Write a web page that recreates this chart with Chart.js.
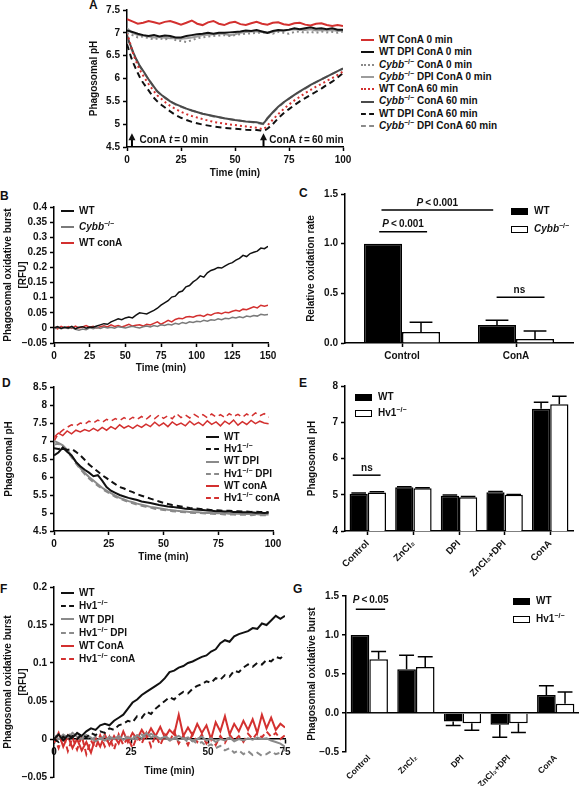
<!DOCTYPE html>
<html lang="en">
<head>
<meta charset="UTF-8">
<meta name="viewport" content="width=device-width, initial-scale=1.0">
<title>Phagosomal pH and oxidative burst</title>
<script src="https://cdnjs.cloudflare.com/ajax/libs/Chart.js/4.4.1/chart.umd.min.js"></script>
<style>
    body {
        margin: 0;
        background: #fff;
        color: #111;
        font-family: "Liberation Sans", Arial, sans-serif;
        font-weight: bold;
    }
    #figure {
        position: relative;
        width: 580px;
        height: 786px;
        overflow: hidden;
    }
    .panel { position: absolute; }
    .panel canvas { display: block; }
    .letter {
        position: absolute;
        font-size: 12px;
        line-height: 12px;
    }
    .legend {
        position: absolute;
        font-size: 10px;
    }
    .legend .row {
        display: flex;
        align-items: center;
        white-space: nowrap;
    }
    .legend .swatch {
        display: inline-block;
        width: 13px;
        height: 0;
        margin-right: 5px;
    }
    .legend .box {
        display: inline-block;
        width: 15px;
        height: 5px;
        border: 1.5px solid #000;
        margin-right: 6px;
    }
    sup {
        font-size: 7px;
        line-height: 0;
        vertical-align: 4px;
    }
</style>
</head>
<body>
<div id="figure">
    <div class="letter" style="left:89px;top:-1px">A</div>
    <div class="letter" style="left:0px;top:190px">B</div>
    <div class="letter" style="left:299px;top:187px">C</div>
    <div class="letter" style="left:2px;top:377px">D</div>
    <div class="letter" style="left:299px;top:377px">E</div>
    <div class="letter" style="left:0px;top:583px">F</div>
    <div class="letter" style="left:293px;top:583px">G</div>

    <div class="panel" style="left:80px;top:0px"><canvas id="chartA" width="275" height="179"></canvas></div>
    <div class="panel" style="left:0px;top:196px"><canvas id="chartB" width="280" height="178"></canvas></div>
    <div class="panel" style="left:300px;top:185px"><canvas id="chartC" width="280" height="178"></canvas></div>
    <div class="panel" style="left:0px;top:378px"><canvas id="chartD" width="285" height="185"></canvas></div>
    <div class="panel" style="left:300px;top:376px"><canvas id="chartE" width="280" height="207"></canvas></div>
    <div class="panel" style="left:0px;top:577px"><canvas id="chartF" width="297" height="209"></canvas></div>
    <div class="panel" style="left:300px;top:586px"><canvas id="chartG" width="280" height="200"></canvas></div>

    <div class="legend" id="legendA" style="left:361px;top:34px;line-height:12.3px"></div>
    <div class="legend" id="legendB" style="left:61px;top:203px;line-height:16px"></div>
    <div class="legend" id="legendC" style="left:511px;top:202px;line-height:18px"></div>
    <div class="legend" id="legendD" style="left:206px;top:431px;line-height:12.2px"></div>
    <div class="legend" id="legendE" style="left:355px;top:389px;line-height:16px"></div>
    <div class="legend" id="legendF" style="left:61px;top:586px;line-height:13.3px"></div>
    <div class="legend" id="legendG" style="left:513px;top:592px;line-height:18px"></div>
</div>

<script>
    // ---------- Panel A: phagosomal pH, ConA added at 0 or 60 min ----------
    const timeA0 = [0, 2.5, 5, 7.5, 10, 12.5, 15, 17.5, 20, 22.5, 25, 27.5, 30, 32.5, 35, 37.5, 40, 42.5, 45, 47.5,
        50, 52.5, 55, 57.5, 60, 62.5, 65, 67.5, 70, 72.5, 75, 77.5, 80, 82.5, 85, 87.5, 90, 92.5, 95, 97.5, 100];
    const phWtConA0 = [7.3, 7.25, 7.2, 7.22, 7.26, 7.23, 7.2, 7.24, 7.26, 7.22, 7.18, 7.22, 7.27, 7.2, 7.17, 7.23, 7.26, 7.2, 7.17, 7.22,
        7.24, 7.19, 7.17, 7.21, 7.24, 7.2, 7.18, 7.22, 7.23, 7.19, 7.17, 7.21, 7.22, 7.18, 7.16, 7.2, 7.21, 7.17, 7.15, 7.17, 7.15];
    const phWtDpiConA0 = [7.05, 7.02, 6.98, 6.95, 6.93, 6.95, 6.92, 6.94, 6.93, 6.9, 6.9, 6.93, 6.95, 6.97, 6.98, 7.0, 6.98, 7.0, 7.0, 7.01,
        7.02, 7.03, 7.05, 7.04, 7.06, 7.03, 7.0, 7.04, 7.06, 7.05, 7.07, 7.1, 7.08, 7.1, 7.12, 7.09, 7.1, 7.08, 7.1, 7.07, 7.07];
    const phCybbConA0 = [7.0, 6.95, 6.9, 6.92, 6.88, 6.86, 6.88, 6.85, 6.9, 6.84, 6.82, 6.8, 6.84, 6.88, 6.9, 6.92, 6.93, 6.94, 6.95, 6.93,
        6.95, 6.97, 6.98, 6.99, 7.0, 7.0, 7.02, 6.98, 7.02, 7.0, 6.98, 7.02, 7.03, 7.0, 7.02, 7.0, 7.03, 7.01, 7.02, 7.0, 7.03];
    const phCybbDpiConA0 = [7.1, 7.0, 6.95, 6.94, 6.92, 6.9, 6.91, 6.89, 6.88, 6.88, 6.87, 6.88, 6.9, 6.92, 6.95, 6.96, 6.97, 6.98, 6.98, 6.95,
        6.97, 7.0, 7.02, 7.03, 7.03, 7.02, 7.0, 7.02, 7.05, 7.05, 7.06, 7.08, 7.07, 7.06, 7.08, 7.05, 7.06, 7.05, 7.06, 7.04, 7.05];

    const timeA60 = [0, 1, 2, 3, 4, 5, 6, 7, 8, 10, 12, 14, 16, 18, 20, 22.5, 25, 27.5, 30, 35, 40, 45, 50, 55, 60,
        62, 63, 64, 65, 67.5, 70, 72.5, 75, 77.5, 80, 82.5, 85, 87.5, 90, 92.5, 95, 97.5, 100];
    const phWtConA60 = [7.0, 6.85, 6.68, 6.52, 6.4, 6.28, 6.18, 6.1, 6.02, 5.88, 5.75, 5.63, 5.55, 5.47, 5.4, 5.33, 5.27, 5.22, 5.18,
        5.11, 5.05, 5.01, 4.98, 4.95, 4.92, 4.9, 4.89, 4.92, 4.97, 5.1, 5.22, 5.33, 5.43, 5.52, 5.6, 5.68, 5.75, 5.82, 5.88, 5.95, 6.01, 6.08, 6.15];
    const phCybbConA60 = [6.95, 6.8, 6.68, 6.56, 6.45, 6.36, 6.27, 6.2, 6.13, 5.98, 5.85, 5.72, 5.64, 5.57, 5.5, 5.44, 5.39, 5.34, 5.3,
        5.23, 5.18, 5.13, 5.09, 5.06, 5.04, 5.02, 5.01, 5.06, 5.13, 5.26, 5.38, 5.48, 5.56, 5.64, 5.72, 5.79, 5.86, 5.92, 5.98, 6.04, 6.1, 6.16, 6.22];
    const phWtDpiConA60 = [6.75, 6.6, 6.45, 6.33, 6.22, 6.12, 6.02, 5.94, 5.87, 5.74, 5.6, 5.5, 5.42, 5.35, 5.28, 5.2, 5.14, 5.09, 5.05,
        4.99, 4.95, 4.92, 4.9, 4.88, 4.87, 4.86, 4.85, 4.87, 4.9, 5.0, 5.13, 5.24, 5.33, 5.42, 5.5, 5.57, 5.64, 5.71, 5.78, 5.86, 5.93, 6.02, 6.12];
    const phCybbDpiConA60 = [6.9, 6.78, 6.65, 6.54, 6.44, 6.34, 6.26, 6.19, 6.12, 5.98, 5.84, 5.72, 5.63, 5.56, 5.5, 5.43, 5.38, 5.34, 5.3,
        5.23, 5.17, 5.13, 5.09, 5.06, 5.03, 5.01, 5.0, 5.05, 5.12, 5.25, 5.37, 5.47, 5.56, 5.64, 5.71, 5.78, 5.85, 5.92, 5.98, 6.04, 6.1, 6.16, 6.21];

    // ---------- Panel B: oxidative burst, Cybb knockout ----------
    const timeB = [0, 2.5, 5, 7.5, 10, 12.5, 15, 17.5, 20, 22.5, 25, 27.5, 30, 32.5, 35, 37.5, 40, 42.5, 45, 47.5,
        50, 52.5, 55, 57.5, 60, 62.5, 65, 67.5, 70, 72.5, 75, 77.5, 80, 82.5, 85, 87.5, 90, 92.5, 95, 97.5,
        100, 102.5, 105, 107.5, 110, 112.5, 115, 117.5, 120, 122.5, 125, 127.5, 130, 132.5, 135, 137.5, 140, 142.5, 145, 147.5, 150];
    const burstBWt = [0.0, 0.004, -0.002, 0.003, 0.0, 0.005, -0.003, 0.002, 0.004, -0.001,
        0.003, 0.002, 0.006, 0.01, 0.014, 0.012, 0.02, 0.025, 0.03, 0.027,
        0.033, 0.036, 0.033, 0.042, 0.05, 0.048, 0.046, 0.052, 0.058, 0.065,
        0.075, 0.083, 0.09, 0.102, 0.105, 0.118, 0.122, 0.136, 0.14, 0.152,
        0.16, 0.172, 0.168, 0.182, 0.19, 0.194, 0.2, 0.198, 0.205, 0.212,
        0.216, 0.224, 0.23, 0.24, 0.236, 0.246, 0.25, 0.254, 0.264, 0.262, 0.27];
    const burstBCybb = [-0.004, 0.002, -0.003, 0.0, -0.002, 0.001, -0.005, -0.008, -0.004, -0.006,
        0.0, -0.003, 0.001, -0.002, 0.003, 0.0, 0.002, -0.001, 0.004, 0.002,
        0.0, 0.003, 0.005, 0.002, 0.0, 0.004, 0.006, 0.003, 0.008, 0.005,
        0.01, 0.008, 0.012, 0.01, 0.015, 0.012, 0.018, 0.015, 0.02, 0.018,
        0.022, 0.02, 0.025, 0.022, 0.027, 0.025, 0.03, 0.027, 0.032, 0.03,
        0.035, 0.033, 0.037, 0.034, 0.039, 0.037, 0.041, 0.039, 0.045, 0.043, 0.044];
    const burstBWtConA = [0.002, -0.003, 0.005, 0.0, 0.004, -0.002, 0.006, 0.0, 0.003, 0.008,
        0.002, 0.005, 0.0, 0.004, 0.007, 0.003, 0.01, 0.005, 0.008, 0.003,
        0.007, 0.012, 0.006, 0.009, 0.01, 0.006, 0.012, 0.01, 0.015, 0.02,
        0.012, 0.018, 0.025, 0.02, 0.028, 0.032, 0.03, 0.036, 0.038, 0.035,
        0.04, 0.042, 0.038, 0.045, 0.042, 0.048, 0.05, 0.047, 0.052, 0.05,
        0.055, 0.058, 0.055, 0.062, 0.06, 0.065, 0.07, 0.066, 0.075, 0.072, 0.075];

    // ---------- Panel C: relative oxidation rate ----------
    const catsC = ["Control", "ConA"];
    const rateWt = [1.0, 0.18];
    const rateWtErr = [0, 0.05];
    const rateCybb = [0.11, 0.04];
    const rateCybbErr = [0.1, 0.08];

    // ---------- Panel D: phagosomal pH, Hv1 knockout ----------
    const timeD = [0, 2, 4, 6, 8, 10, 12, 14, 16, 18, 20, 22, 24, 26, 28, 30, 32, 34, 36, 38,
        40, 42, 44, 46, 48, 50, 52, 54, 56, 58, 60, 62, 64, 66, 68, 70, 72, 74, 76, 78,
        80, 82, 84, 86, 88, 90, 92, 94, 96, 98];
    const phDWt = [6.6, 6.68, 6.82, 6.7, 6.6, 6.42, 6.3, 6.2, 6.12, 6.02, 6.05, 5.9, 5.72, 5.62, 5.56, 5.5, 5.46, 5.42, 5.39, 5.36,
        5.32, 5.3, 5.28, 5.25, 5.22, 5.2, 5.18, 5.17, 5.15, 5.14, 5.12, 5.11, 5.1, 5.09, 5.08, 5.07, 5.06, 5.05, 5.05, 5.04,
        5.04, 5.03, 5.03, 5.02, 5.02, 5.02, 5.01, 5.01, 5.0, 5.01];
    const phDHv1 = [6.8, 6.78, 6.8, 6.75, 6.78, 6.7, 6.6, 6.48, 6.35, 6.25, 6.15, 6.05, 5.97, 5.88, 5.8, 5.72, 5.68, 5.62, 5.58, 5.52,
        5.48, 5.44, 5.4, 5.36, 5.32, 5.28, 5.25, 5.22, 5.2, 5.18, 5.16, 5.14, 5.13, 5.12, 5.1, 5.1, 5.08, 5.08, 5.07, 5.06,
        5.06, 5.05, 5.05, 5.04, 5.04, 5.03, 5.04, 5.03, 5.03, 5.02];
    const phDWtDpi = [7.0, 6.95, 6.88, 6.75, 6.6, 6.42, 6.25, 6.12, 6.0, 5.9, 5.8, 5.7, 5.62, 5.55, 5.48, 5.42, 5.38, 5.33, 5.3, 5.26,
        5.23, 5.2, 5.17, 5.15, 5.13, 5.11, 5.09, 5.08, 5.06, 5.05, 5.04, 5.03, 5.02, 5.02, 5.01, 5.0, 5.0, 4.99, 4.99, 4.99,
        4.98, 4.98, 4.98, 4.97, 4.97, 4.97, 4.97, 4.96, 4.96, 4.96];
    const phDHv1Dpi = [6.9, 6.92, 6.85, 6.72, 6.55, 6.38, 6.22, 6.08, 5.96, 5.86, 5.76, 5.67, 5.59, 5.52, 5.45, 5.4, 5.35, 5.3, 5.27, 5.23,
        5.2, 5.17, 5.15, 5.12, 5.1, 5.08, 5.07, 5.05, 5.04, 5.03, 5.02, 5.01, 5.0, 5.0, 4.99, 4.98, 4.98, 4.97, 4.97, 4.96,
        4.96, 4.96, 4.95, 4.95, 4.95, 4.94, 4.95, 4.94, 4.94, 4.93];
    const phDWtConA = [7.1, 7.22, 7.15, 7.28, 7.2, 7.3, 7.25, 7.32, 7.27, 7.35, 7.28, 7.38, 7.3, 7.4, 7.33, 7.45, 7.36, 7.42, 7.35, 7.44,
        7.38, 7.47, 7.4, 7.52, 7.42, 7.5, 7.4, 7.53, 7.44, 7.5, 7.42, 7.55, 7.45, 7.52, 7.43, 7.56, 7.46, 7.53, 7.42, 7.55,
        7.47, 7.58, 7.44, 7.54, 7.46, 7.57, 7.48, 7.55, 7.5, 7.48];
    const phDHv1ConA = [7.0, 7.2, 7.3, 7.38, 7.45, 7.42, 7.5, 7.46, 7.55, 7.5, 7.58, 7.52, 7.6, 7.55, 7.62, 7.57, 7.65, 7.58, 7.66, 7.6,
        7.68, 7.6, 7.7, 7.62, 7.72, 7.63, 7.7, 7.62, 7.76, 7.65, 7.72, 7.64, 7.74, 7.66, 7.73, 7.65, 7.75, 7.67, 7.73, 7.65,
        7.76, 7.68, 7.74, 7.66, 7.75, 7.68, 7.78, 7.7, 7.76, 7.66];

    // ---------- Panels E and G: bar summaries ----------
    const catsEG = ["Control", "ZnCl\u2082", "DPI", "ZnCl\u2082+DPI", "ConA"];
    const phEWt = [5.03, 5.21, 4.97, 5.07, 7.37];
    const phEWtErr = [0.02, 0.01, 0.02, 0.02, 0.18];
    const phEHv1 = [5.06, 5.18, 4.93, 5.0, 7.5];
    const phEHv1Err = [0.02, 0.01, 0.02, 0.01, 0.22];

    const burstGWt = [1.0, 0.56, -0.11, -0.15, 0.23];
    const burstGWtErr = [0, 0.18, 0.05, 0.16, 0.12];
    const burstGHv1 = [0.69, 0.59, -0.13, -0.13, 0.12];
    const burstGHv1Err = [0.1, 0.13, 0.09, 0.12, 0.15];

    // ---------- Panel F: oxidative burst, Hv1 knockout ----------
    const timeF = [0, 1.5, 3, 4.5, 6, 7.5, 9, 10.5, 12, 13.5, 15, 16.5, 18, 19.5, 21, 22.5, 24, 25.5, 27, 28.5,
        30, 31.5, 33, 34.5, 36, 37.5, 39, 40.5, 42, 43.5, 45, 46.5, 48, 49.5, 51, 52.5, 54, 55.5, 57, 58.5,
        60, 61.5, 63, 64.5, 66, 67.5, 69, 70.5, 72, 73.5, 75];
    const burstFWt = [0.0, 0.006, -0.002, 0.005, 0.002, 0.008, 0.004, 0.01, 0.014, 0.012,
        0.018, 0.02, 0.018, 0.024, 0.028, 0.032, 0.04, 0.048, 0.052, 0.058,
        0.062, 0.066, 0.07, 0.074, 0.08, 0.088, 0.09, 0.094, 0.096, 0.1,
        0.102, 0.105, 0.108, 0.11, 0.115, 0.118, 0.126, 0.13, 0.128, 0.135,
        0.138, 0.14, 0.142, 0.146, 0.145, 0.152, 0.15, 0.156, 0.162, 0.158, 0.162];
    const burstFHv1 = [0.0, -0.004, 0.003, -0.002, 0.004, 0.0, 0.006, 0.002, 0.008, 0.005,
        0.01, 0.008, 0.014, 0.012, 0.018, 0.02, 0.024, 0.022, 0.03, 0.028,
        0.036, 0.033, 0.04, 0.045, 0.05, 0.055, 0.052, 0.058, 0.062, 0.06,
        0.066, 0.07, 0.072, 0.076, 0.074, 0.08, 0.078, 0.084, 0.082, 0.09,
        0.088, 0.094, 0.098, 0.095, 0.1, 0.098, 0.104, 0.102, 0.108, 0.106, 0.112];
    const burstFWtDpi = [0.004, 0.0, 0.006, 0.002, 0.008, 0.003, 0.0, 0.005, 0.002, -0.003,
        0.001, -0.002, 0.003, 0.0, 0.004, -0.001, 0.002, 0.0, 0.005, 0.001,
        0.008, 0.002, 0.004, 0.0, 0.003, -0.002, 0.001, 0.004, 0.0, 0.002,
        -0.003, 0.0, 0.003, -0.002, 0.001, -0.004, 0.0, -0.002, 0.002, -0.003,
        0.0, -0.002, 0.001, -0.001, 0.002, 0.0, 0.001, -0.002, -0.004, -0.006, -0.01];
    const burstFHv1Dpi = [0.002, 0.006, 0.0, 0.007, 0.003, 0.008, 0.002, 0.005, -0.002, 0.003,
        0.0, 0.004, -0.001, 0.003, 0.0, 0.005, 0.001, 0.004, 0.0, 0.006,
        0.002, 0.007, 0.003, 0.0, 0.004, 0.0, 0.003, -0.002, 0.001, -0.004,
        -0.002, -0.006, -0.004, -0.01, -0.007, -0.012, -0.009, -0.015, -0.012, -0.018,
        -0.015, -0.02, -0.016, -0.021, -0.018, -0.022, -0.02, -0.016, -0.02, -0.018, -0.014];
    const burstFWtConA = [-0.005, 0.008, -0.01, 0.004, -0.012, 0.0, -0.015, -0.004, -0.018, 0.002,
        -0.01, 0.006, -0.008, 0.004, -0.006, 0.01, -0.004, 0.008, 0.0, 0.012,
        0.002, 0.014, 0.004, 0.016, 0.002, 0.012, 0.006, 0.032, 0.004, 0.015,
        0.005, 0.02, 0.008, 0.018, 0.0, 0.022, 0.01, 0.03, 0.006, 0.02,
        0.01, 0.024, 0.012, 0.026, 0.008, 0.032, 0.014, 0.028, 0.012, 0.02, 0.015];
    const burstFHv1ConA = [0.004, -0.012, 0.006, -0.016, 0.002, -0.014, 0.004, -0.02, -0.002, -0.012,
        0.005, -0.01, 0.003, -0.014, 0.006, -0.008, 0.002, -0.012, 0.004, -0.006,
        0.008, -0.01, 0.005, -0.008, 0.006, -0.004, 0.01, -0.006, 0.004, -0.008,
        0.007, -0.004, 0.006, -0.006, 0.003, -0.008, 0.004, -0.005, 0.006, -0.002,
        0.004, -0.004, 0.007, 0.0, 0.008, 0.002, 0.01, 0.003, 0.008, 0.0, 0.005];

    // ---------- shared styling ----------
    const FONT = '"Liberation Sans", Arial, sans-serif';
    Chart.defaults.font = { family: FONT, size: 10, weight: "bold" };
    Chart.defaults.color = "#111";

    const RED = "#d3302f";
    const GREY = "#8a8a8a";
    const DOTS = [2, 3];
    const DASH = [6, 4];

    const plainNum = v => (v < 0 ? "\u2212" : "") + String(Math.abs(Math.round(v * 1000) / 1000));
    const oneDecimal = v => (v < -1e-9 ? "\u2212" : "") + Math.abs(v).toFixed(1);

    function lineSet(label, xs, ys, color, width, dash) {
        return {
            label: label,
            data: xs.map((x, i) => ({ x: x, y: ys[i] })),
            borderColor: color,
            backgroundColor: color,
            borderWidth: width,
            borderDash: dash,
            pointRadius: 0,
            tension: 0,
            fill: false
        };
    }

    function barSet(label, values, errors, fill, pct) {
        return {
            label: label,
            data: values,
            errors: errors,
            backgroundColor: fill,
            borderColor: "#000",
            borderWidth: 1.5,
            borderSkipped: "start",
            categoryPercentage: pct,
            barPercentage: 1
        };
    }

    const tickGrid = { drawOnChartArea: false, tickLength: 4, tickColor: "#000", tickWidth: 1.5 };
    const axisBorder = { color: "#000", width: 1.5 };

    function valueAxis(min, max, step, title, width, fmt) {
        return {
            type: "linear", min: min, max: max,
            ticks: { stepSize: step, padding: 3, callback: fmt },
            border: axisBorder,
            grid: tickGrid,
            title: { display: true, text: title, padding: 0, font: { lineHeight: 1.45 } },
            afterFit: s => { s.width = width; }
        };
    }

    function timeAxis(max, step, height) {
        return {
            type: "linear", min: 0, max: max,
            ticks: { stepSize: step, padding: 3, maxRotation: 0 },
            border: axisBorder,
            grid: tickGrid,
            title: { display: true, text: "Time (min)", padding: 0 },
            afterFit: s => { s.height = height; }
        };
    }

    function categoryAxis(height, rotation, size) {
        return {
            type: "category",
            offset: true,
            ticks: { padding: 3, minRotation: rotation, maxRotation: rotation, autoSkip: false, font: { size: size || 10 } },
            border: axisBorder,
            grid: { offset: false, drawOnChartArea: false, tickLength: 4, tickColor: "#000", tickWidth: 1.5 },
            afterFit: s => { s.height = height; }
        };
    }

    function baseOptions(padding, scales, notes, cap) {
        return {
            responsive: false,
            animation: false,
            events: [],
            layout: { padding: padding },
            plugins: {
                legend: { display: false },
                tooltip: { enabled: false },
                notes: notes || {},
                errorBars: { cap: cap || 0.7 }
            },
            scales: scales
        };
    }

    // text made of plain and italic pieces, e.g. "P<0.001" with an italic P
    function drawRich(ctx, parts, x, y, align) {
        const fonts = parts.map(p => (p.i ? "italic " : "") + "bold 10px " + FONT);
        const widths = parts.map((p, k) => { ctx.font = fonts[k]; return ctx.measureText(p.t).width; });
        const total = widths.reduce((a, b) => a + b, 0);
        let cx = align === "left" ? x : x - total / 2;
        ctx.textBaseline = "middle";
        ctx.textAlign = "left";
        parts.forEach((p, k) => {
            ctx.font = fonts[k];
            ctx.fillText(p.t, cx, y);
            cx += widths[k];
        });
    }

    // significance lines, labels and arrows, placed in data units
    const notes = {
        id: "notes",
        afterDatasetsDraw(chart, args, opts) {
            const { ctx, scales: { x, y } } = chart;
            ctx.save();
            ctx.strokeStyle = "#000";
            ctx.fillStyle = "#111";
            ctx.lineWidth = 1.5;
            (opts.lines || []).forEach(l => {
                const py = y.getPixelForValue(l.y);
                ctx.beginPath();
                ctx.moveTo(x.getPixelForValue(l.x1), py);
                ctx.lineTo(x.getPixelForValue(l.x2), py);
                ctx.stroke();
            });
            (opts.arrows || []).forEach(a => {
                const px = x.getPixelForValue(a.x);
                const y0 = y.getPixelForValue(a.y0);
                const y1 = y.getPixelForValue(a.y1);
                ctx.lineWidth = 2;
                ctx.beginPath();
                ctx.moveTo(px, y0);
                ctx.lineTo(px, y1 + 4);
                ctx.stroke();
                ctx.beginPath();
                ctx.moveTo(px, y1);
                ctx.lineTo(px - 3.5, y1 + 7);
                ctx.lineTo(px + 3.5, y1 + 7);
                ctx.closePath();
                ctx.fill();
            });
            (opts.texts || []).forEach(t => {
                drawRich(ctx, t.parts, x.getPixelForValue(t.x), y.getPixelForValue(t.y), t.align);
            });
            ctx.restore();
        }
    };

    // one-sided error bars (away from zero), read from dataset.errors
    const errorBars = {
        id: "errorBars",
        afterDatasetsDraw(chart, args, opts) {
            const ctx = chart.ctx;
            const yScale = chart.scales.y;
            chart.data.datasets.forEach((ds, i) => {
                if (!ds.errors) return;
                chart.getDatasetMeta(i).data.forEach((bar, j) => {
                    const v = ds.data[j];
                    const e = ds.errors[j];
                    if (!e) return;
                    const dir = v < 0 ? -1 : 1;
                    const yStart = yScale.getPixelForValue(v);
                    const yEnd = yScale.getPixelForValue(v + dir * e);
                    const half = bar.width * opts.cap / 2;
                    ctx.save();
                    ctx.strokeStyle = "#000";
                    ctx.lineWidth = 1.5;
                    ctx.beginPath();
                    ctx.moveTo(bar.x, yStart);
                    ctx.lineTo(bar.x, yEnd);
                    ctx.moveTo(bar.x - half, yEnd);
                    ctx.lineTo(bar.x + half, yEnd);
                    ctx.stroke();
                    ctx.restore();
                });
            });
        }
    };

    function richLabel(label) {
        return "<span>" + label
            .replace("Cybb\u2212/\u2212", "<i>Cybb</i><sup>\u2212/\u2212</sup>")
            .replace("Hv1\u2212/\u2212", "Hv1<sup>\u2212/\u2212</sup>") + "</span>";
    }

    function lineLegend(id, chart) {
        document.getElementById(id).innerHTML = chart.data.datasets.map(ds => {
            const dash = ds.borderDash || [];
            const style = dash.length === 0 ? "solid" : (dash[0] <= 2 ? "dotted" : "dashed");
            const w = Math.max(2, ds.borderWidth + 0.5);
            return '<div class="row"><span class="swatch" style="border-top:' + w + 'px ' + style + ' ' + ds.borderColor +
                '"></span>' + richLabel(ds.label) + '</div>';
        }).join("");
    }

    function boxLegend(id, chart) {
        document.getElementById(id).innerHTML = chart.data.datasets.map(ds =>
            '<div class="row"><span class="box" style="background:' + ds.backgroundColor + '"></span>' +
            richLabel(ds.label) + '</div>'
        ).join("");
    }

    const pLabel = txt => [{ t: "P", i: true }, { t: "\u2009<\u2009" + txt }];

    // ---------- A ----------
    const chartA = new Chart(document.getElementById("chartA"), {
        type: "line",
        data: {
            datasets: [
                lineSet("WT ConA 0 min", timeA0, phWtConA0, RED, 2, []),
                lineSet("WT DPI ConA 0 min", timeA0, phWtDpiConA0, "#111", 2, []),
                lineSet("Cybb\u2212/\u2212 ConA 0 min", timeA0, phCybbConA0, GREY, 2, DOTS),
                lineSet("Cybb\u2212/\u2212 DPI ConA 0 min", timeA0, phCybbDpiConA0, "#9c9c9c", 2, []),
                lineSet("WT ConA 60 min", timeA60, phWtConA60, RED, 2, DOTS),
                lineSet("Cybb\u2212/\u2212 ConA 60 min", timeA60, phCybbConA60, "#4a4a4a", 2, []),
                lineSet("WT DPI ConA 60 min", timeA60, phWtDpiConA60, "#111", 2, DASH),
                lineSet("Cybb\u2212/\u2212 DPI ConA 60 min", timeA60, phCybbDpiConA60, GREY, 2, DASH)
            ]
        },
        options: baseOptions({ left: 7, right: 12, top: 10, bottom: 0 }, {
            x: timeAxis(100, 25, 32),
            y: valueAxis(4.5, 7.5, 0.5, "Phagosomal pH", 40, plainNum)
        }, {
            arrows: [{ x: 2.3, y0: 4.5, y1: 4.8 }, { x: 63.2, y0: 4.5, y1: 4.8 }],
            texts: [
                { x: 5.8, y: 4.64, align: "left", parts: [{ t: "ConA " }, { t: "t", i: true }, { t: "\u2009=\u20090 min" }] },
                { x: 65.9, y: 4.64, align: "left", parts: [{ t: "ConA " }, { t: "t", i: true }, { t: "\u2009=\u200960 min" }] }
            ]
        }),
        plugins: [notes]
    });
    lineLegend("legendA", chartA);

    // ---------- B ----------
    const chartB = new Chart(document.getElementById("chartB"), {
        type: "line",
        data: {
            datasets: [
                lineSet("WT", timeB, burstBWt, "#111", 1.5, []),
                lineSet("Cybb\u2212/\u2212", timeB, burstBCybb, "#7a7a7a", 1.5, []),
                lineSet("WT conA", timeB, burstBWtConA, RED, 1.5, [])
            ]
        },
        options: baseOptions({ left: 1, right: 12, top: 11, bottom: 0 }, {
            x: timeAxis(150, 25, 31),
            y: valueAxis(-0.05, 0.4, 0.05, ["Phagosomal oxidative burst", "[RFU]"], 53, plainNum)
        }),
        plugins: [notes]
    });
    lineLegend("legendB", chartB);

    // ---------- C ----------
    const chartC = new Chart(document.getElementById("chartC"), {
        type: "bar",
        data: {
            labels: catsC,
            datasets: [
                barSet("WT", rateWt, rateWtErr, "#000", 0.667),
                barSet("Cybb\u2212/\u2212", rateCybb, rateCybbErr, "#fff", 0.667)
            ]
        },
        options: baseOptions({ left: 4, right: 7, top: 8, bottom: 0 }, {
            x: categoryAxis(20, 0),
            y: valueAxis(0, 1.5, 0.5, "Relative oxidation rate", 41, oneDecimal)
        }, {
            lines: [{ x1: -0.18, x2: 0.8, y: 1.34 }, { x1: -0.2, x2: 0.22, y: 1.12 }, { x1: 0.83, x2: 1.25, y: 0.46 }],
            texts: [
                { x: 0.31, y: 1.41, parts: pLabel("0.001") },
                { x: 0.01, y: 1.2, parts: pLabel("0.001") },
                { x: 1.03, y: 0.53, parts: [{ t: "ns" }] }
            ]
        }, 0.6),
        plugins: [errorBars, notes]
    });
    boxLegend("legendC", chartC);

    // ---------- D ----------
    const chartD = new Chart(document.getElementById("chartD"), {
        type: "line",
        data: {
            datasets: [
                lineSet("WT", timeD, phDWt, "#111", 2, []),
                lineSet("Hv1\u2212/\u2212", timeD, phDHv1, "#111", 2, DASH),
                lineSet("WT DPI", timeD, phDWtDpi, GREY, 2, []),
                lineSet("Hv1\u2212/\u2212 DPI", timeD, phDHv1Dpi, GREY, 2, DASH),
                lineSet("WT conA", timeD, phDWtConA, RED, 1.5, []),
                lineSet("Hv1\u2212/\u2212 conA", timeD, phDHv1ConA, RED, 1.5, DASH)
            ]
        },
        options: baseOptions({ left: 2, right: 12, top: 9, bottom: 0 }, {
            x: timeAxis(100, 25, 32),
            y: valueAxis(4.5, 8.5, 0.5, "Phagosomal pH", 52, plainNum)
        }),
        plugins: [notes]
    });
    lineLegend("legendD", chartD);

    // ---------- E ----------
    const chartE = new Chart(document.getElementById("chartE"), {
        type: "bar",
        data: {
            labels: catsEG,
            datasets: [
                barSet("WT", phEWt, phEWtErr, "#000", 0.8),
                barSet("Hv1\u2212/\u2212", phEHv1, phEHv1Err, "#fff", 0.8)
            ]
        },
        options: baseOptions({ left: 5, right: 7, top: 10, bottom: 0 }, {
            x: categoryAxis(52, 45, 9.5),
            y: valueAxis(4, 8, 1, "Phagosomal pH", 40, plainNum)
        }, {
            lines: [{ x1: -0.33, x2: 0.28, y: 5.54 }],
            texts: [{ x: -0.02, y: 5.74, parts: [{ t: "ns" }] }]
        }, 0.8),
        plugins: [errorBars, notes]
    });
    boxLegend("legendE", chartE);

    // ---------- F ----------
    const xF = timeAxis(75, 25, 38);
    xF.position = { y: 0 };
    const chartF = new Chart(document.getElementById("chartF"), {
        type: "line",
        data: {
            datasets: [
                lineSet("WT", timeF, burstFWt, "#111", 2, []),
                lineSet("Hv1\u2212/\u2212", timeF, burstFHv1, "#111", 2, DASH),
                lineSet("WT DPI", timeF, burstFWtDpi, GREY, 2, []),
                lineSet("Hv1\u2212/\u2212 DPI", timeF, burstFHv1Dpi, GREY, 2, DASH),
                lineSet("WT ConA", timeF, burstFWtConA, RED, 2, []),
                lineSet("Hv1\u2212/\u2212 conA", timeF, burstFHv1ConA, RED, 2, DASH)
            ]
        },
        options: baseOptions({ left: 1, right: 12, top: 10, bottom: 7 }, {
            x: xF,
            y: valueAxis(-0.05, 0.2, 0.05, ["Phagosomal oxidative burst", "[RFU]"], 53, plainNum)
        }),
        plugins: [notes]
    });
    lineLegend("legendF", chartF);

    // ---------- G ----------
    const yG = valueAxis(-0.5, 1.5, 0.5, "Phagosomal oxidative burst", 41, oneDecimal);
    yG.grid = {
        drawOnChartArea: true,
        color: c => (c.tick && c.tick.value === 0 ? "#000" : "rgba(0,0,0,0)"),
        lineWidth: 1.5,
        tickLength: 4,
        tickColor: "#000",
        tickWidth: 1.5
    };
    const xG = categoryAxis(34, 45, 8.5);
    xG.border = { display: false };
    xG.grid = { display: false, drawTicks: false };
    xG.ticks.padding = 1;
    const chartG = new Chart(document.getElementById("chartG"), {
        type: "bar",
        data: {
            labels: catsEG,
            datasets: [
                barSet("WT", burstGWt, burstGWtErr, "#000", 0.8),
                barSet("Hv1\u2212/\u2212", burstGHv1, burstGHv1Err, "#fff", 0.8)
            ]
        },
        options: baseOptions({ left: 5, right: 1, top: 10, bottom: 0 }, {
            x: xG,
            y: yG
        }, {
            lines: [{ x1: -0.29, x2: 0.34, y: 1.33 }],
            texts: [{ x: 0.03, y: 1.44, parts: pLabel("0.05") }]
        }, 0.8),
        plugins: [errorBars, notes]
    });
    boxLegend("legendG", chartG);
</script>
</body>
</html>
